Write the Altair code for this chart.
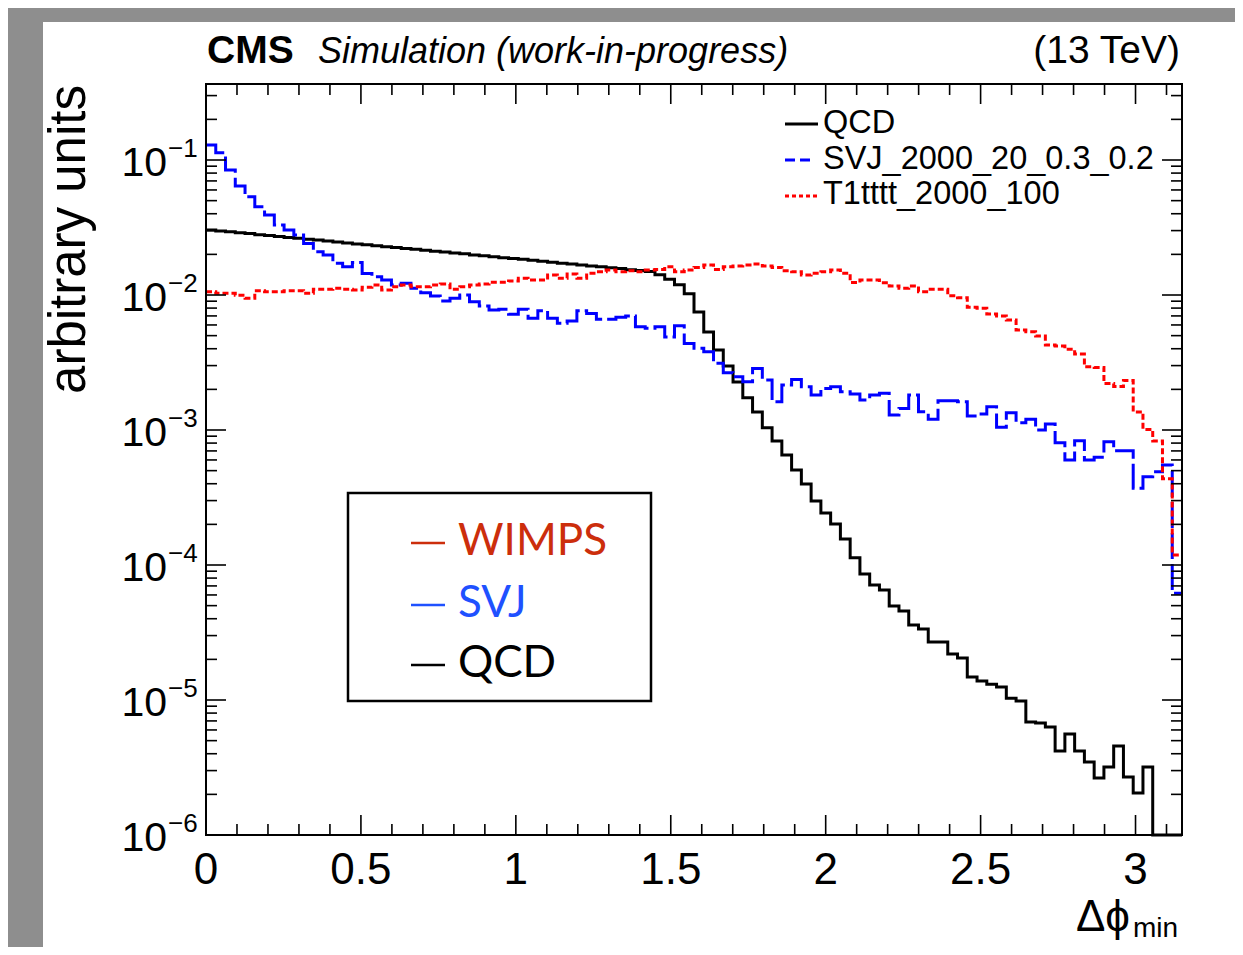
import altair as alt
import pandas as pd

# ---------------- data ----------------
X_MAX = 3.15
N_BINS = 100

qcd = [
    0.0303, 0.0298, 0.0294, 0.0289, 0.0285, 0.0280, 0.0276, 0.0271, 0.0267, 0.0263,
    0.0259, 0.0255, 0.0251, 0.0247, 0.0243, 0.0239, 0.0236, 0.0232, 0.0228, 0.0225,
    0.0221, 0.0218, 0.0215, 0.0211, 0.0208, 0.0205, 0.0202, 0.0198, 0.0195, 0.0192,
    0.0189, 0.0186, 0.0184, 0.0181, 0.0178, 0.0175, 0.0172, 0.0170, 0.0167, 0.0164,
    0.0162, 0.0159, 0.0157, 0.0154, 0.0152, 0.0149, 0.0141, 0.0131, 0.0119, 0.0102,
    0.00748, 0.00532, 0.00391, 0.00298, 0.00227, 0.00173, 0.00136, 0.00104, 0.000829, 0.000653,
    0.000506, 0.000398, 0.000298, 0.000243, 0.000201, 0.000156, 0.000113, 8.58e-5, 7.11e-5, 6.53e-5,
    4.97e-5, 4.56e-5, 3.59e-5, 3.36e-5, 2.69e-5, 2.69e-5, 2.19e-5, 2.05e-5, 1.48e-5, 1.38e-5,
    1.31e-5, 1.25e-5, 1.03e-5, 9.83e-6, 6.87e-6, 6.76e-6, 6.31e-6, 4.19e-6, 5.6e-6, 4.19e-6,
    3.47e-6, 2.64e-6, 3.19e-6, 4.56e-6, 2.69e-6, 2.05e-6, 3.19e-6, 0.0, 0.0, 0.0,
]

svj = [
    0.129, 0.113, 0.0843, 0.0642, 0.0534, 0.0451, 0.0391, 0.0330, 0.0303, 0.0278,
    0.0241, 0.0209, 0.0198, 0.0172, 0.0162, 0.0174, 0.01446, 0.01365, 0.01292, 0.01186,
    0.01221, 0.01121, 0.0104, 0.00983, 0.00902, 0.00945, 0.0100, 0.00891, 0.00829, 0.00774,
    0.00783, 0.00719, 0.00783, 0.00672, 0.00765, 0.00672, 0.00617, 0.00642, 0.00765, 0.00731,
    0.00661, 0.00661, 0.00683, 0.00699, 0.00582, 0.00566, 0.00582, 0.00488, 0.00593, 0.00438,
    0.00403, 0.0038, 0.00312, 0.00266, 0.00248, 0.00228, 0.00286, 0.00235, 0.00162, 0.00215,
    0.00237, 0.00209, 0.00182, 0.00203, 0.00209, 0.00192, 0.00185, 0.00167, 0.00182, 0.00187,
    0.001292, 0.001446, 0.00182, 0.001365, 0.0012, 0.00165, 0.00165, 0.00162, 0.00127, 0.001313,
    0.001486, 0.001047, 0.001343, 0.001133, 0.0012, 0.001, 0.001108, 0.000805, 0.000599, 0.000833,
    0.000599, 0.000627, 0.000819, 0.000702, 0.000702, 0.00037, 0.00045, 0.00049, 0.00055, 6.17e-5,
]

t1tttt = [
    0.01057, 0.0103, 0.0103, 0.00995, 0.00945, 0.01076, 0.01057, 0.01057, 0.01076, 0.01076,
    0.0103, 0.01102, 0.01102, 0.01121, 0.01102, 0.01089, 0.0114, 0.01186, 0.01089, 0.01152,
    0.01186, 0.01152, 0.01152, 0.01186, 0.01206, 0.01102, 0.01152, 0.01186, 0.01206, 0.01242,
    0.01242, 0.0127, 0.01331, 0.01292, 0.01292, 0.01406, 0.01331, 0.0143, 0.01331, 0.01448,
    0.01486, 0.0153, 0.01486, 0.01512, 0.01486, 0.0153, 0.01548, 0.01622, 0.01486, 0.0153,
    0.01602, 0.0167, 0.01548, 0.01622, 0.01642, 0.0167, 0.01699, 0.01642, 0.01602, 0.01512,
    0.01486, 0.01406, 0.01448, 0.01486, 0.0153, 0.01448, 0.01238, 0.01292, 0.01292, 0.01234,
    0.01166, 0.01121, 0.01166, 0.01057, 0.01102, 0.01102, 0.00988, 0.00955, 0.0081, 0.00797,
    0.00723, 0.00699, 0.00653, 0.0055, 0.00534, 0.00496, 0.00426, 0.00419, 0.00396, 0.00365,
    0.00294, 0.00291, 0.00221, 0.0021, 0.00233, 0.00136, 0.00101, 0.000829, 0.000435, 0.0001186,
]

series_names = ["QCD", "SVJ_2000_20_0.3_0.2", "T1tttt_2000_100"]

x_major = [0, 0.5, 1, 1.5, 2, 2.5, 3]
x_major_labels = ["0", "0.5", "1", "1.5", "2", "2.5", "3"]
x_minor = [0.1, 0.2, 0.3, 0.4, 0.6, 0.7, 0.8, 0.9, 1.1, 1.2, 1.3, 1.4, 1.6, 1.7,
           1.8, 1.9, 2.1, 2.2, 2.3, 2.4, 2.6, 2.7, 2.8, 2.9, 3.1]
y_major = [1e-6, 1e-5, 1e-4, 1e-3, 1e-2, 1e-1]
y_major_exp = ["\u22126", "\u22125", "\u22124", "\u22123", "\u22122", "\u22121"]
y_minor = [m * 10.0 ** e for e in range(-6, -1) for m in range(2, 10)] + [0.2, 0.3]

inner_legend = ["WIMPS", "SVJ", "QCD"]
inner_colors = ["#cc2e0c", "#1f51ff", "#000000"]

# ---------------- layout ----------------
W, H = 976, 751
F = "Liberation Sans"
Y_MIN, Y_MAX = 1e-6, 0.3656
bw = X_MAX / N_BINS

xs = alt.Scale(domain=[0, X_MAX], nice=False, zero=False)
ys = alt.Scale(type="log", domain=[Y_MIN, Y_MAX], nice=False)


def hist_df(vals):
    rows = [{"x": i * bw, "v": max(v, Y_MIN)} for i, v in enumerate(vals)]
    rows.append({"x": X_MAX, "v": max(vals[-1], Y_MIN)})
    return pd.DataFrame(rows)


one = pd.DataFrame({"k": [0]})


def txt(s, x, y, size, **kw):
    kw.setdefault("font", F)
    kw.setdefault("align", "left")
    kw.setdefault("baseline", "alphabetic")
    return alt.Chart(one).mark_text(text=s, fontSize=size, **kw).encode(
        x=alt.value(x), y=alt.value(y))


def hrule(x1, x2, y, color, width, dash=None):
    kw = {"color": color, "strokeWidth": width}
    if dash:
        kw["strokeDash"] = dash
    return alt.Chart(one).mark_rule(**kw).encode(
        x=alt.value(x1), x2=alt.value(x2), y=alt.value(y))


layers = []

# white panel on grey background
layers.append(alt.Chart(one).mark_rect(color="white").encode(
    x=alt.value(-163), x2=alt.value(1035), y=alt.value(-62), y2=alt.value(900)))

# histograms
def hist_line(vals, color, dash=None):
    kw = {"interpolate": "step-after", "color": color, "strokeWidth": 3}
    if dash:
        kw["strokeDash"] = dash
    return alt.Chart(hist_df(vals)).mark_line(**kw).encode(
        x=alt.X("x:Q", scale=xs, axis=None),
        y=alt.Y("v:Q", scale=ys, axis=None),
        order="x:Q",
    )

layers.append(hist_line(qcd, "#000000"))
layers.append(hist_line(svj, "#0000ff", [26, 5]))
layers.append(hist_line(t1tttt, "#ff0000", [6, 3]))

# frame
layers.append(alt.Chart(one).mark_rect(fill="transparent", stroke="black", strokeWidth=2).encode(
    x=alt.value(0), x2=alt.value(W), y=alt.value(0), y2=alt.value(H)))

# ticks (inside, ROOT style)
TK = dict(color="black", strokeWidth=1.6)
for vals, ln in [(x_major, 20), (x_minor, 11)]:
    d = pd.DataFrame({"x": vals})
    layers.append(alt.Chart(d).mark_rule(**TK).encode(
        x=alt.X("x:Q", scale=xs, axis=None), y=alt.value(H), y2=alt.value(H - ln)))
    layers.append(alt.Chart(d).mark_rule(**TK).encode(
        x=alt.X("x:Q", scale=xs, axis=None), y=alt.value(0), y2=alt.value(ln)))
for vals, ln in [(y_major, 20), (y_minor, 11)]:
    d = pd.DataFrame({"v": vals})
    layers.append(alt.Chart(d).mark_rule(**TK).encode(
        y=alt.Y("v:Q", scale=ys, axis=None), x=alt.value(0), x2=alt.value(ln)))
    layers.append(alt.Chart(d).mark_rule(**TK).encode(
        y=alt.Y("v:Q", scale=ys, axis=None), x=alt.value(W), x2=alt.value(W - ln)))

# x tick labels
xl = pd.DataFrame({"x": x_major, "t": x_major_labels})
layers.append(alt.Chart(xl).mark_text(font=F, fontSize=44, align="center", baseline="alphabetic").encode(
    x=alt.X("x:Q", scale=xs, axis=None), y=alt.value(H + 49), text="t:N"))

# y tick labels 10^-n
yl = pd.DataFrame({"v": y_major, "e": y_major_exp})
layers.append(alt.Chart(yl).mark_text(text="10", font=F, fontSize=41, align="right",
                                      baseline="alphabetic", dy=16).encode(
    y=alt.Y("v:Q", scale=ys, axis=None), x=alt.value(-39)))
layers.append(alt.Chart(yl).mark_text(font=F, fontSize=26, align="left",
                                      baseline="alphabetic", dy=-3).encode(
    y=alt.Y("v:Q", scale=ys, axis=None), x=alt.value(-38), text="e:N"))

# axis titles
layers.append(txt("arbitrary units", -121, 1, 51, angle=270, align="right"))
layers.append(txt("\u0394\u03d5", 924, 847, 44, align="right"))
layers.append(txt("min", 927, 853, 28))

# header
layers.append(txt("CMS", 1, -21, 39, fontWeight="bold"))
layers.append(txt("Simulation (work-in-progress)", 112, -21, 36, fontStyle="italic"))
layers.append(txt("(13 TeV)", 974, -21, 39, align="right"))

# top-right legend
leg_y = [40, 76, 112]
leg_base = [49, 85, 120]
layers.append(hrule(579, 612, leg_y[0], "#000000", 3))
layers.append(hrule(579, 608, leg_y[1], "#0000ff", 3, [10, 5]))
layers.append(hrule(579, 612, leg_y[2], "#ff0000", 3, [4, 3]))
for name, b in zip(series_names, leg_base):
    layers.append(txt(name, 617, b, 32.5))

# inner annotation box
layers.append(alt.Chart(one).mark_rect(fill="white", stroke="black", strokeWidth=2.5).encode(
    x=alt.value(142), x2=alt.value(445), y=alt.value(409), y2=alt.value(617)))
for name, col, dy, base in zip(inner_legend, inner_colors, [459, 521, 581], [471, 533, 593]):
    layers.append(hrule(205, 239, dy, col, 2.5))
    layers.append(txt(name, 252, base, 44, font="Lato", color=col))

chart = alt.layer(*layers).properties(
    width=W,
    height=H,
    autosize=alt.AutoSizeParams(type="none"),
    padding={"left": 198, "top": 76, "right": 53, "bottom": 112},
    background="#8e8e8e",
).configure_view(stroke="transparent")

chart.save("out.html", embed_options={"renderer": "svg", "actions": False})
